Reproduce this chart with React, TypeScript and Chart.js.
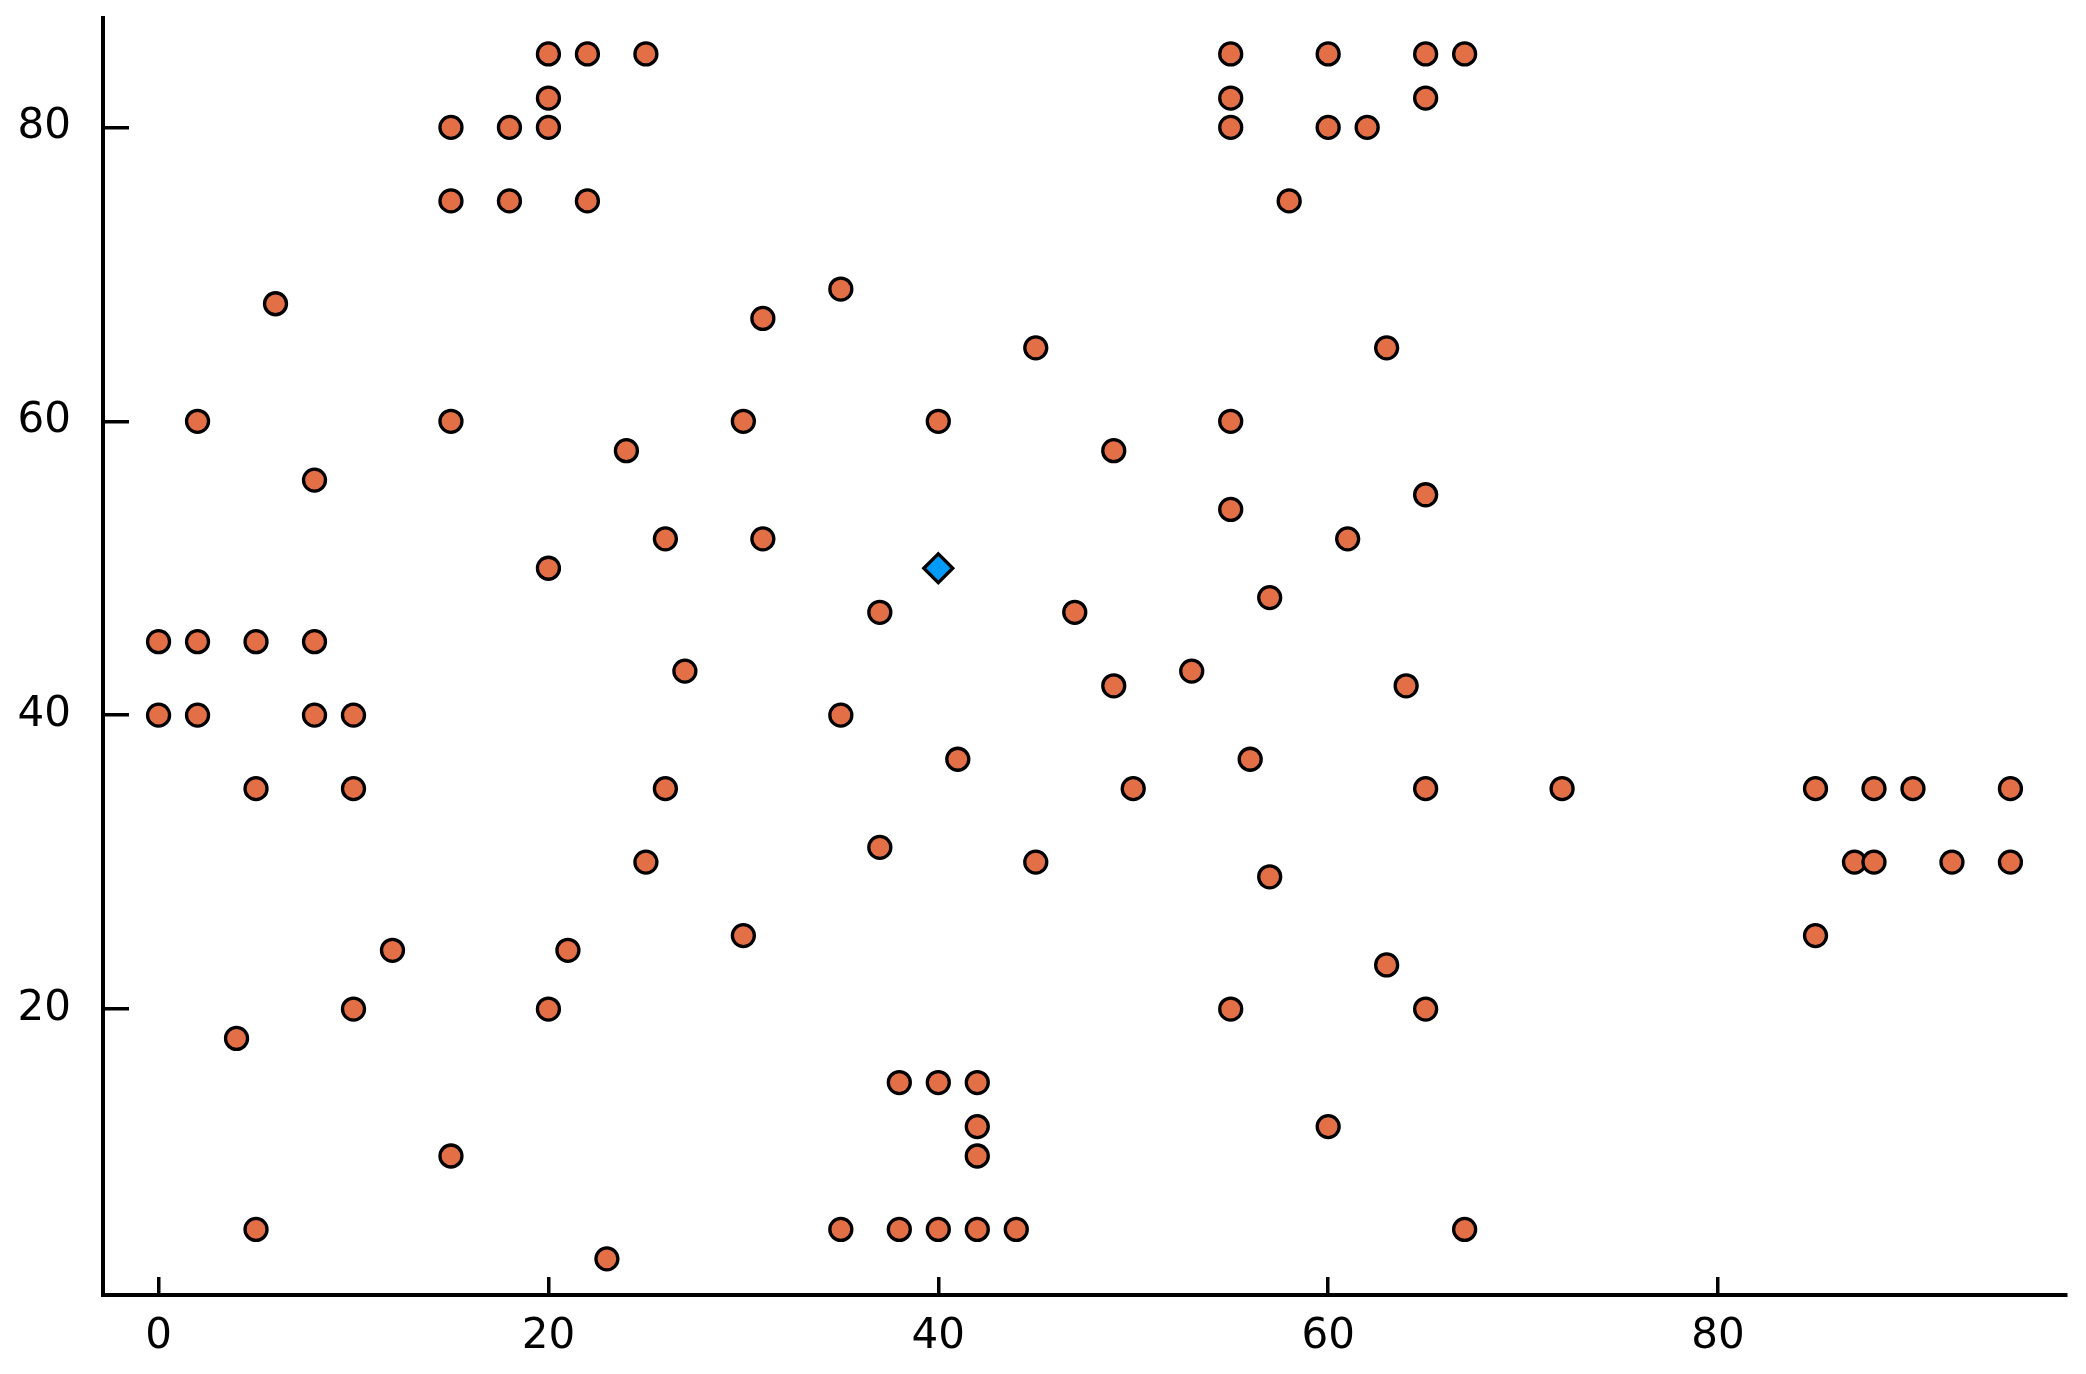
import React, { useEffect, useRef } from "react";
import { Chart, registerables } from "chart.js";

Chart.register(...registerables);

// Highlighted point (blue diamond)
const targetX = [40];
const targetY = [50];

// Scatter points (orange circles)
const pointX = [
  20, 22, 25, 55, 60, 65, 67,
  20, 55, 65,
  15, 18, 20, 55, 60, 62,
  15, 18, 22, 58,
  35,
  6,
  31,
  45, 63,
  2, 15, 30, 40, 55,
  24, 49,
  8,
  65,
  55,
  26, 31, 61,
  20,
  57,
  37, 47,
  0, 2, 5, 8,
  27, 53,
  49, 64,
  0, 2, 8, 10, 35,
  41, 56,
  5, 10, 26, 50, 65, 72, 85, 88, 90, 95,
  37,
  25, 45, 87, 88, 92, 95,
  57,
  30, 85,
  12, 21,
  63,
  10, 20, 55, 65,
  4,
  38, 40, 42,
  42, 60,
  15, 42,
  5, 35, 38, 40, 42, 44, 67,
  23,
];
const pointY = [
  85, 85, 85, 85, 85, 85, 85,
  82, 82, 82,
  80, 80, 80, 80, 80, 80,
  75, 75, 75, 75,
  69,
  68,
  67,
  65, 65,
  60, 60, 60, 60, 60,
  58, 58,
  56,
  55,
  54,
  52, 52, 52,
  50,
  48,
  47, 47,
  45, 45, 45, 45,
  43, 43,
  42, 42,
  40, 40, 40, 40, 40,
  37, 37,
  35, 35, 35, 35, 35, 35, 35, 35, 35, 35,
  31,
  30, 30, 30, 30, 30, 30,
  29,
  25, 25,
  24, 24,
  23,
  20, 20, 20, 20,
  18,
  15, 15, 15,
  12, 12,
  10, 10,
  5, 5, 5, 5, 5, 5, 5,
  3,
];

const xTicks = [0, 20, 40, 60, 80];
const yTicks = [20, 40, 60, 80];

const X_MIN = -2.85;
const X_MAX = 97.85;
const Y_MIN = 0.54;
const Y_MAX = 87.46;

const W = 2086;
const H = 1374;

export default function App() {
  const ref = useRef<HTMLCanvasElement | null>(null);

  useEffect(() => {
    if (!ref.current) return;
    const font = { family: "'DejaVu Sans', sans-serif", size: 42 };
    const chart = new Chart(ref.current, {
      type: "scatter",
      data: {
        datasets: [
          {
            data: targetX.map((x, i) => ({ x, y: targetY[i] })),
            pointStyle: "rectRot",
            pointRadius: 14.5,
            pointBackgroundColor: "#009af9",
            pointBorderColor: "#000000",
            pointBorderWidth: 3.3,
          },
          {
            data: pointX.map((x, i) => ({ x, y: pointY[i] })),
            pointStyle: "circle",
            pointRadius: 11,
            pointBackgroundColor: "#e26f46",
            pointBorderColor: "#000000",
            pointBorderWidth: 3.3,
          },
        ],
      },
      options: {
        animation: false,
        responsive: false,
        devicePixelRatio: 1,
        layout: { padding: { top: 16, right: 20, left: 0, bottom: 0 } },
        plugins: { legend: { display: false }, tooltip: { enabled: false } },
        scales: {
          x: {
            type: "linear",
            min: X_MIN,
            max: X_MAX,
            afterBuildTicks: (s: any) => {
              s.ticks = xTicks.map((v) => ({ value: v }));
            },
            afterFit: (s: any) => {
              s.height = 79;
              s.paddingLeft = 0;
              s.paddingRight = 0;
              s.paddingTop = 0;
              s.paddingBottom = 0;
            },
            grid: {
              drawOnChartArea: false,
              drawTicks: true,
              tickLength: -18,
              color: "#000000",
              lineWidth: 3.5,
            },
            border: { display: true, color: "#000000", width: 4 },
            ticks: { color: "#000000", font, padding: 35, maxRotation: 0 },
          },
          y: {
            type: "linear",
            min: Y_MIN,
            max: Y_MAX,
            afterBuildTicks: (s: any) => {
              s.ticks = yTicks.map((v) => ({ value: v }));
            },
            afterFit: (s: any) => {
              s.width = 103;
              s.paddingLeft = 0;
              s.paddingRight = 0;
              s.paddingTop = 0;
              s.paddingBottom = 0;
            },
            grid: {
              drawOnChartArea: false,
              drawTicks: true,
              tickLength: -26,
              color: "#000000",
              lineWidth: 3.5,
            },
            border: { display: true, color: "#000000", width: 4 },
            ticks: { color: "#000000", font, padding: 58 },
          },
        },
      },
    } as any);
    return () => chart.destroy();
  }, []);

  return (
    <div style={{ position: "fixed", left: 0, top: 0, width: W, height: H, background: "#ffffff" }}>
      <canvas ref={ref} width={W} height={H} style={{ width: W, height: H, display: "block" }} />
    </div>
  );
}
